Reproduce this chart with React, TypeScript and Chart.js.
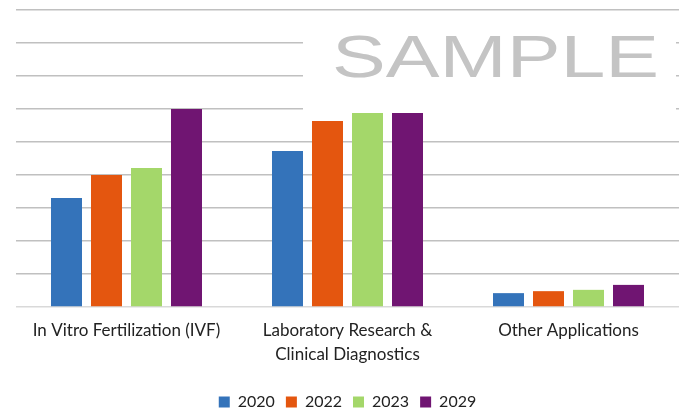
import React, { useEffect, useRef } from "react";
import { Chart, registerables } from "chart.js";

Chart.register(...registerables);

const categories: (string | string[])[] = [
  "In Vitro Fertilization (IVF)",
  ["Laboratory Research &", "Clinical Diagnostics"],
  "Other Applications",
];
const seriesNames = ["2020", "2022", "2023", "2029"];
const values2020 = [3.3, 4.73, 0.42];
const values2022 = [4.0, 5.64, 0.48];
const values2023 = [4.21, 5.88, 0.52];
const values2029 = [6.0, 5.88, 0.67];
const colors = ["#3473BA", "#E4560F", "#A4D76A", "#701572"];
const yMax = 9;
const watermark = "SAMPLE";

const FONT = "Lato";

const watermarkPlugin = {
  id: "watermark",
  beforeDatasetsDraw(chart: any) {
    const ctx = chart.ctx as CanvasRenderingContext2D;
    ctx.save();
    ctx.fillStyle = "#ffffff";
    ctx.fillRect(303, 19, 373, 92);
    ctx.font = `60px "Liberation Sans"`;
    ctx.fillStyle = "#c4c4c4";
    ctx.textBaseline = "alphabetic";
    const w = ctx.measureText(watermark).width;
    const target = 327;
    ctx.translate(332, 77);
    ctx.scale(target / w, 1);
    ctx.fillText(watermark, 0, 0);
    ctx.restore();
  },
};

export default function App() {
  const ref = useRef<HTMLCanvasElement>(null);
  useEffect(() => {
    if (!ref.current) return;
    const allValues = [values2020, values2022, values2023, values2029];
    const chart = new Chart(ref.current, {
      type: "bar",
      data: {
        labels: categories,
        datasets: seriesNames.map((name, i) => ({
          label: name,
          data: allValues[i],
          backgroundColor: colors[i],
          borderWidth: 0,
          categoryPercentage: 0.724,
          barPercentage: 0.775,
        })),
      },
      options: {
        animation: false,
        responsive: false,
        maintainAspectRatio: false,
        layout: { padding: { top: 10, right: 7, left: 16, bottom: 0 } },
        plugins: {
          tooltip: { enabled: false },
          legend: {
            position: "bottom",
            maxHeight: 31,
            labels: {
              boxWidth: 11,
              boxHeight: 11,
              padding: 11,
              color: "#222222",
              font: { family: FONT, size: 16 },
            },
          },
        },
        scales: {
          x: {
            grid: { display: false, drawTicks: false },
            border: { display: false },
            ticks: {
              color: "#222222",
              padding: 12,
              maxRotation: 0,
              autoSkip: false,
              font: { family: FONT, size: 17, lineHeight: 1.41 },
            },
            afterFit(scale: any) {
              scale.height = 76;
            },
          },
          y: {
            min: 0,
            max: yMax,
            ticks: { display: false, stepSize: 1 },
            border: { display: false },
            grid: {
              drawTicks: false,
              lineWidth: 1.5,
              color: (c: any) => (c.tick && c.tick.value === 0 ? "#d9d9d9" : "#c0c0c0"),
            },
            afterFit(scale: any) {
              scale.width = 0;
            },
          },
        },
      },
      plugins: [watermarkPlugin],
    });
    return () => chart.destroy();
  }, []);
  return (
    <div style={{ position: "fixed", left: 0, top: 0, width: 686, height: 414, background: "#fff" }}>
      <canvas ref={ref} width={686} height={414} style={{ display: "block" }} />
    </div>
  );
}
